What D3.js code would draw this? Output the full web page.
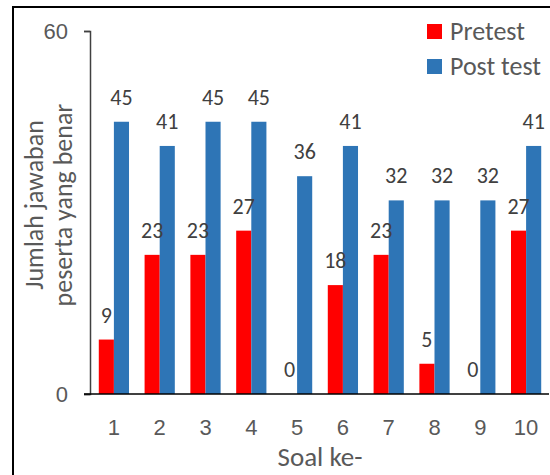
<!DOCTYPE html>
<html>
<head>
<meta charset="utf-8">
<script src="https://cdn.jsdelivr.net/npm/d3@7"></script>
<style>
  body { margin: 0; background: #fff; }
  svg { display: block; font-family: Calibri, Carlito, Lato, sans-serif; }
</style>
</head>
<body>
<div class="canvas"></div>
<script>
// data
const categories = ['1', '2', '3', '4', '5', '6', '7', '8', '9', '10'];
const seriesNames = ['Pretest', 'Post test'];
const pretest = [9, 23, 23, 27, 0, 18, 23, 5, 0, 27];
const posttest = [45, 41, 45, 45, 36, 41, 32, 32, 32, 41];
const yTicks = [0, 60];
const colors = ['#ff0000', '#2e75b6'];

const width = 550, height = 475;
const svg = d3.select('.canvas')
    .append('svg')
    .attr('width', width)
    .attr('height', height);

// outer frame (runs off the right/bottom edge like the screenshot)
svg.append('rect')
    .attr('x', 13).attr('y', 7)
    .attr('width', 600).attr('height', 600)
    .attr('fill', 'none')
    .attr('stroke', '#000')
    .attr('stroke-width', 2);

// scales
const x0 = d3.scaleBand().domain(categories).range([91, 549]).paddingInner(0.34).paddingOuter(0.17);
const x1 = d3.scaleBand().domain(seriesNames).range([0, x0.bandwidth()]);
const y = d3.scaleLinear().domain([0, 60]).range([394, 31]);

const table = categories.map((c, i) => ({ cat: c, vals: [pretest[i], posttest[i]] }));

// bars
const groups = svg.append('g').selectAll('g')
    .data(table)
    .join('g')
    .attr('transform', d => `translate(${x0(d.cat)},0)`);

groups.selectAll('rect')
    .data(d => d.vals.map((v, j) => ({ key: seriesNames[j], v, j })))
    .join('rect')
    .attr('x', d => x1(d.key))
    .attr('width', x1.bandwidth())
    .attr('y', d => y(d.v))
    .attr('height', d => y(0) - y(d.v))
    .attr('fill', d => colors[d.j]);

// value labels
groups.selectAll('text')
    .data(d => d.vals.map((v, j) => ({ key: seriesNames[j], v, j })))
    .join('text')
    .attr('x', d => x1(d.key) + x1.bandwidth() / 2)
    .attr('y', d => y(d.v) - 17)
    .attr('text-anchor', 'middle')
    .attr('font-size', 22)
    .attr('fill', '#404040')
    .text(d => d.v);

// axes
const yAxis = d3.axisLeft(y).tickValues(yTicks).tickSize(6).tickPadding(16);
const yAxisGroup = svg.append('g')
    .attr('transform', 'translate(90,0)')
    .call(yAxis);
yAxisGroup.select('.domain').attr('stroke', '#404040').attr('stroke-width', 1.5);
yAxisGroup.selectAll('line').attr('stroke', '#404040').attr('stroke-width', 1.5);
yAxisGroup.selectAll('text').attr('font-size', 22).attr('fill', '#595959').attr('font-family', null);

const xAxis = d3.axisBottom(x0).tickSize(0).tickPadding(25);
const xAxisGroup = svg.append('g')
    .attr('transform', `translate(0,${y(0)})`)
    .call(xAxis);
xAxisGroup.select('.domain').remove();
xAxisGroup.selectAll('text').attr('font-size', 22).attr('fill', '#595959').attr('font-family', null);
svg.append('line')
    .attr('x1', 84).attr('x2', 549)
    .attr('y1', y(0)).attr('y2', y(0))
    .attr('stroke', '#000').attr('stroke-width', 1.5);

// axis titles
svg.append('text')
    .attr('x', 320).attr('y', 466)
    .attr('text-anchor', 'middle')
    .attr('font-size', 27)
    .attr('fill', '#595959')
    .text('Soal ke-');

const yTitle = svg.append('text')
    .attr('transform', 'translate(0,205) rotate(-90)')
    .attr('text-anchor', 'middle')
    .attr('font-size', 26)
    .attr('fill', '#595959');
yTitle.append('tspan').attr('x', 0).attr('y', 43).text('Jumlah jawaban');
yTitle.append('tspan').attr('x', 0).attr('y', 72).text('peserta yang benar');

// legend
const legend = svg.append('g').selectAll('g')
    .data(seriesNames)
    .join('g')
    .attr('transform', (d, i) => `translate(427,${24 + i * 35})`);
legend.append('rect')
    .attr('width', 15).attr('height', 15)
    .attr('fill', (d, i) => colors[i]);
legend.append('text')
    .attr('x', 23).attr('y', 16)
    .attr('font-size', 26)
    .attr('fill', '#595959')
    .text(d => d);
</script>
</body>
</html>
